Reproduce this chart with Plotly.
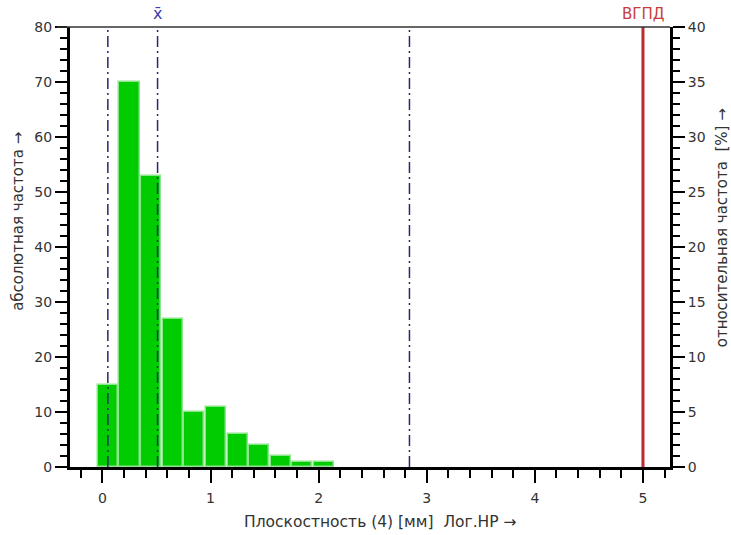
import plotly.graph_objects as go

# Histogram of flatness values (bin width 0.2 mm)
bin_centers = [0.05, 0.25, 0.45, 0.65, 0.85, 1.05, 1.25, 1.45, 1.65, 1.85, 2.05]
counts = [15, 70, 53, 27, 10, 11, 6, 4, 2, 1, 1]
bin_width = 0.2

# Statistical marker lines
lower_line = 0.05
mean_value = 0.51
upper_line = 2.84
limit_value = 5.0  # ВГПД

x_ticks = [0, 1, 2, 3, 4, 5]
total = sum(counts)
percent = [c / total * 100 for c in counts]

FONT = "DejaVu Sans, Arial, sans-serif"
TXT = "#333333"

fig = go.Figure()
fig.add_trace(go.Bar(
    x=bin_centers, y=counts, width=bin_width * 0.93,
    marker=dict(color="rgb(0,204,0)", line=dict(color="rgb(140,228,140)", width=1.5)),
    hoverinfo="x+y", showlegend=False,
))
# relative frequency on the right axis (invisible, keeps the axis alive)
fig.add_trace(go.Scatter(
    x=bin_centers, y=percent, yaxis="y2", mode="markers",
    marker=dict(opacity=0), hoverinfo="skip", showlegend=False,
))

dash_style = "11px,4px,2px,4px"
for xv in [lower_line, mean_value, upper_line]:
    fig.add_shape(type="line", xref="x", yref="paper", x0=xv, x1=xv, y0=0, y1=1,
                  line=dict(color="rgb(40,40,110)", width=1.5, dash=dash_style), layer="above")
fig.add_shape(type="line", xref="x", yref="paper", x0=limit_value, x1=limit_value, y0=0, y1=1,
              line=dict(color="rgb(185,45,50)", width=3), layer="above")
# thin top frame line
fig.add_shape(type="line", xref="paper", yref="paper", x0=-0.022, x1=1, y0=1, y1=1,
              line=dict(color="#333333", width=1.5))

fig.add_annotation(x=mean_value, y=1.03, xref="x", yref="paper", text="x̄",
                   xanchor="center", yanchor="middle",
                   showarrow=False, font=dict(family=FONT, size=16, color="rgb(60,60,180)"))
fig.add_annotation(x=limit_value, y=1.03, xref="x", yref="paper", text="ВГПД",
                   xanchor="center", yanchor="middle",
                   showarrow=False, font=dict(family=FONT, size=15, color="rgb(200,60,60)"))

fig.add_annotation(x=-0.087, y=0.559, xref="paper", yref="paper", text="абсолютная частота →",
                   xanchor="center", yanchor="middle",
                   textangle=-90, showarrow=False, font=dict(family=FONT, size=15, color=TXT))
fig.add_annotation(x=1.087, y=0.543, xref="paper", yref="paper", text="относительная частота  [%] →",
                   xanchor="center", yanchor="middle",
                   textangle=-90, showarrow=False, font=dict(family=FONT, size=15, color=TXT))
fig.add_annotation(x=0.518, y=-0.125, xref="paper", yref="paper", text="Плоскостность (4) [мм]  Лог.НР →",
                   xanchor="center", yanchor="middle",
                   showarrow=False, font=dict(family=FONT, size=15.5, color=TXT))

fig.update_layout(
    width=731, height=535,
    margin=dict(l=70, r=61, t=27, b=68),
    paper_bgcolor="white", plot_bgcolor="white",
    font=dict(family=FONT, size=14, color=TXT),
    xaxis=dict(range=[-0.3, 5.25], tickvals=x_ticks, ticks="outside", ticklen=13, tickwidth=1.5,
               tickcolor="black", showline=True, linewidth=3, linecolor="black",
               showgrid=False, zeroline=False, fixedrange=True, ticklabelstandoff=3,
               minor=dict(dtick=0.2, tick0=0, ticks="outside", ticklen=8, tickwidth=1.5, tickcolor="black")),
    yaxis=dict(range=[0, 80], dtick=10, ticks="outside", ticklen=12, tickwidth=1.5,
               tickcolor="black", showline=True, linewidth=3, linecolor="black",
               showgrid=False, zeroline=False,
               minor=dict(dtick=2, ticks="outside", ticklen=7, tickwidth=1.5, tickcolor="black")),
    yaxis2=dict(range=[0, 40], dtick=5, overlaying="y", side="right", ticks="outside", ticklen=12,
                tickwidth=1.5, tickcolor="black", showline=True, linewidth=3, linecolor="black",
                showgrid=False, zeroline=False,
                minor=dict(dtick=1, ticks="outside", ticklen=7, tickwidth=1.5, tickcolor="black")),
    bargap=0,
)

fig.write_html("out.html")
